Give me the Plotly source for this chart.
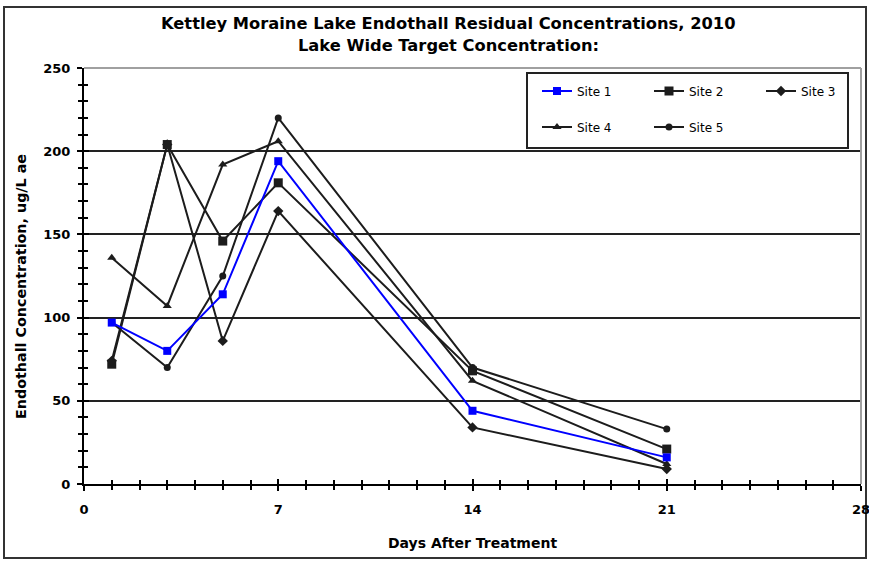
import plotly.graph_objects as go

days = [1, 3, 5, 7, 14, 21]
site1 = [97, 80, 114, 194, 44, 16]
site2 = [72, 204, 146, 181, 68, 21]
site3 = [74, 204, 86, 164, 34, 9]
site4 = [136, 107, 192, 206, 62, 12]
site5 = [97, 70, 125, 220, 70, 33]

names = ["Site 1", "Site 2", "Site 3", "Site 4", "Site 5"]
x_ticks = [0, 7, 14, 21, 28]
y_ticks = [0, 50, 100, 150, 200, 250]

W, H = 869, 563
L, R, T, B = 84, 8, 68, 79
pw, ph = W - L - R, H - T - B


def px_x(p):
    return (p - L) / pw


def px_y(p):
    return (H - B - p) / ph


FONT = "DejaVu Sans, Verdana, sans-serif"
BLK = "#1c1c1c"

series = [
    (names[0], site1, "#0000ff", "square", 8, "legend"),
    (names[1], site2, BLK, "square", 9, "legend"),
    (names[2], site3, BLK, "diamond", 8, "legend"),
    (names[3], site4, BLK, "triangle-up", 8, "legend2"),
    (names[4], site5, BLK, "circle", 7, "legend2"),
]

fig = go.Figure()
order = [1, 2, 3, 4, 0]
for i in order:
    nm, vals, col, sym, sz, lg = series[i]
    fig.add_trace(go.Scatter(
        x=days, y=vals, name=nm, mode="lines+markers",
        line=dict(color=col, width=2),
        marker=dict(symbol=sym, size=sz, color=col, line=dict(width=0)),
        legend=lg, legendrank=i + 1,
    ))

tickfont = dict(family=FONT, size=13, color="black", weight="bold")

fig.update_layout(
    width=W, height=H,
    margin=dict(l=L, r=R, t=T, b=B, autoexpand=False),
    paper_bgcolor="white", plot_bgcolor="white",
    showlegend=True,
    xaxis=dict(
        range=[0, 28], tickvals=x_ticks, ticktext=[str(v) for v in x_ticks],
        ticks="outside", ticklen=5, tickwidth=1.5, tickcolor="black",
        minor=dict(dtick=1, ticks="outside", ticklen=4, tickwidth=1.5, tickcolor="black"),
        showline=True, linecolor="black", linewidth=2,
        showgrid=False, zeroline=False, automargin=False,
        tickfont=tickfont, ticklabelstandoff=7, ticklabeloverflow="allow",
        title=dict(text="Days After Treatment", standoff=23,
                   font=dict(family=FONT, size=14, color="black", weight="bold")),
    ),
    yaxis=dict(
        range=[0, 250], tickvals=y_ticks,
        ticks="outside", ticklen=5, tickwidth=1.5, tickcolor="black",
        minor=dict(dtick=10, ticks="outside", ticklen=4, tickwidth=1.5, tickcolor="black"),
        showline=True, linecolor="black", linewidth=2,
        showgrid=True, gridcolor="#222222", gridwidth=1.5, zeroline=False,
        automargin=False,
        tickfont=tickfont, ticklabelstandoff=4, ticklabeloverflow="allow",
    ),
    xaxis2=dict(
        range=[0, 28], overlaying="x", anchor="y2", matches="x",
        tickvals=x_ticks, showticklabels=False,
        ticks="inside", ticklen=5, tickwidth=1.5, tickcolor="black",
        minor=dict(dtick=1, ticks="inside", ticklen=4, tickwidth=1.5, tickcolor="black"),
        showline=False, showgrid=False, zeroline=False, automargin=False,
    ),
    yaxis2=dict(
        range=[0, 250], overlaying="y", anchor="x2", matches="y",
        tickvals=y_ticks, showticklabels=False,
        ticks="inside", ticklen=5, tickwidth=1.5, tickcolor="black",
        minor=dict(dtick=10, ticks="inside", ticklen=4, tickwidth=1.5, tickcolor="black"),
        showline=False, showgrid=False, zeroline=False, automargin=False,
    ),
    legend=dict(
        orientation="h", x=px_x(537), y=px_y(91), xanchor="left", yanchor="middle",
        bgcolor="rgba(0,0,0,0)", borderwidth=0,
        font=dict(family=FONT, size=12, color="black"),
        entrywidth=67, entrywidthmode="pixels", itemwidth=30,
    ),
    legend2=dict(
        orientation="h", x=px_x(537), y=px_y(127), xanchor="left", yanchor="middle",
        bgcolor="rgba(0,0,0,0)", borderwidth=0,
        font=dict(family=FONT, size=12, color="black"),
        entrywidth=67, entrywidthmode="pixels", itemwidth=30,
    ),
)

# invisible trace so the overlay (inside-tick) axes render
fig.add_trace(go.Scatter(x=[None], y=[None], xaxis="x2", yaxis="y2",
                         showlegend=False, hoverinfo="skip"))

shapes = [
    # outer chart border
    dict(type="rect", xref="paper", yref="paper",
         x0=px_x(4), x1=px_x(866), y0=px_y(558), y1=px_y(7),
         line=dict(color="#333333", width=2), fillcolor="rgba(0,0,0,0)", layer="below"),
    # plot area top & right border (gray)
    dict(type="line", xref="paper", yref="paper", x0=0, x1=1, y0=1, y1=1,
         line=dict(color="#a0a0a0", width=2), layer="above"),
    dict(type="line", xref="paper", yref="paper", x0=1, x1=1, y0=0, y1=1,
         line=dict(color="#a0a0a0", width=2), layer="above"),
    # legend box
    dict(type="rect", xref="paper", yref="paper",
         x0=px_x(527), x1=px_x(848), y0=px_y(148), y1=px_y(73),
         line=dict(color="#222222", width=2), fillcolor="white", layer="above"),
]
fig.update_layout(shapes=shapes)

fig.add_annotation(text="Kettley Moraine Lake Endothall Residual Concentrations, 2010",
                   xref="paper", yref="paper", x=px_x(448), y=px_y(23),
                   xanchor="center", yanchor="middle", showarrow=False,
                   font=dict(family=FONT, size=16.3, color="black", weight="bold"))
fig.add_annotation(text="Lake Wide Target Concentration:",
                   xref="paper", yref="paper", x=px_x(448), y=px_y(46),
                   xanchor="center", yanchor="middle", showarrow=False,
                   font=dict(family=FONT, size=16.3, color="black", weight="bold"))
fig.add_annotation(text="Endothall Concentration, ug/L ae",
                   xref="paper", yref="paper", x=px_x(21), y=px_y(287),
                   xanchor="center", yanchor="middle", showarrow=False, textangle=-90,
                   font=dict(family=FONT, size=14.3, color="black", weight="bold"))

fig.write_html("out.html", config={"displayModeBar": False},
               post_script="document.body.style.margin='0';")
